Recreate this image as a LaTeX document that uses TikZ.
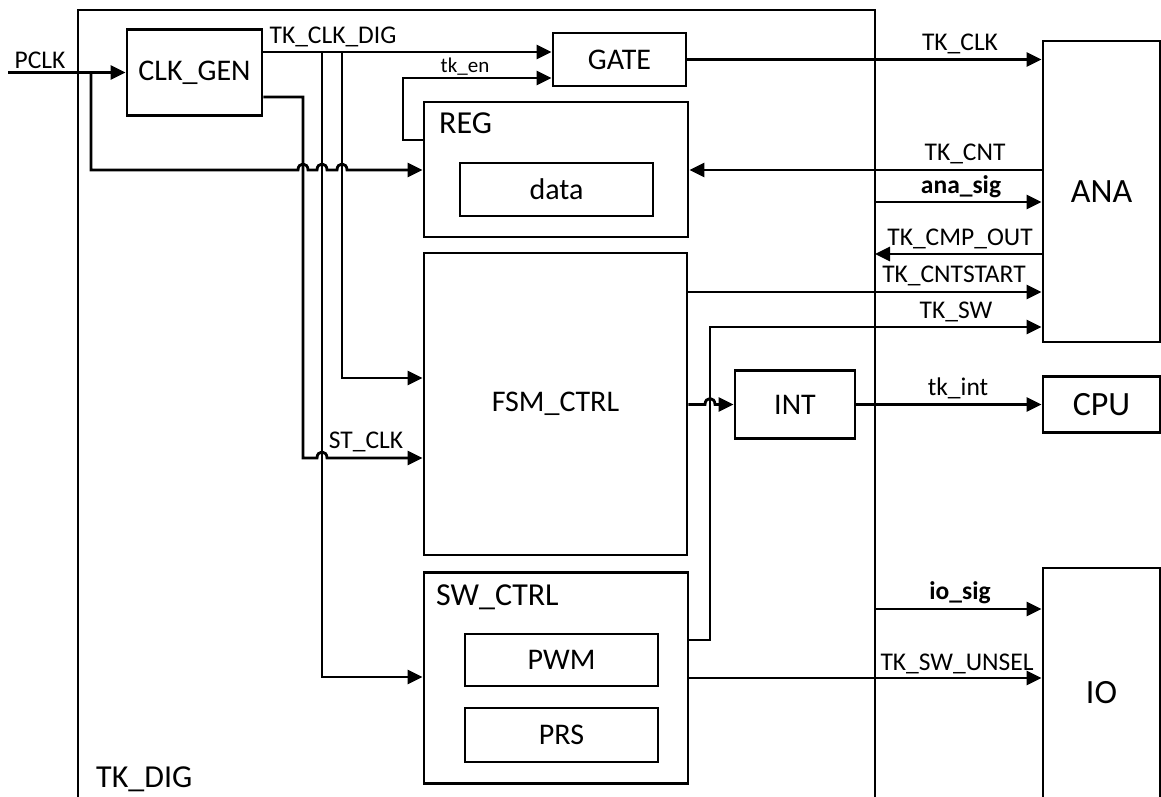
\documentclass[tikz,border=0pt]{standalone}
\usepackage{fontspec}
\setmainfont{Carlito}
\usetikzlibrary{arrows.meta}
\newcommand\fblk{\fontsize{30}{34}\selectfont}
\newcommand\fext{\fontsize{34}{38}\selectfont}
\newcommand\fbig{\fontsize{32}{36}\selectfont}
\newcommand\flbl{\fontsize{25.5}{29}\selectfont}
\newcommand\fsml{\fontsize{21}{25}\selectfont}
\newcommand\hj[2]{-- ({#1-5},#2) .. controls ({#1-5},{#2-8}) and ({#1+5},{#2-8}) .. ({#1+5},#2)}
\begin{document}
\begin{tikzpicture}[x=1pt,y=-1pt,
  box/.style={draw, line width=2.8pt, inner sep=0pt, font=\fblk},
  ext/.style={box, font=\fext},
  arr/.style={line width=2.8pt, -{Triangle[length=15pt,width=14pt]}},
  lbl/.style={anchor=base, inner sep=0pt, font=\flbl},
  blbl/.style={anchor=base west, inner sep=0pt, font=\fbig}]
\clip (0,0) rectangle (1161,796);
% outer container
\node[box, minimum width=797pt, minimum height=820pt] (tkdig) at (476.5,420) {};
\node[blbl] (tkdiglbl) at (96,787) {TK\_DIG};
% blocks
\node[box, minimum width=135pt, minimum height=86pt] (clkgen) at (194.5,72.5) {CLK\_GEN};
\node[box, minimum width=133pt, minimum height=53pt] (gate) at (619.5,59.5) {GATE};
\node[box, minimum width=264pt, minimum height=135pt] (reg) at (556,169.5) {};
\node[blbl] (reglbl) at (439,133) {REG};
\node[box, minimum width=193pt, minimum height=53pt] (data) at (556.5,189.5) {data};
\node[box, minimum width=263pt, minimum height=302pt] (fsm) at (555.5,404) {FSM\_CTRL};
\node[box, minimum width=264pt, minimum height=211pt] (sw) at (556,678) {};
\node[blbl] (swlbl) at (436,605) {SW\_CTRL};
\node[box, minimum width=193pt, minimum height=52pt] (pwm) at (561.5,660) {PWM};
\node[box, minimum width=193pt, minimum height=54pt] (prs) at (561.5,735) {PRS};
\node[box, minimum width=120pt, minimum height=68pt] (int) at (795,404.5) {INT};
\node[ext, minimum width=117pt, minimum height=301pt] (ana) at (1101.5,191.5) {ANA};
\node[ext, minimum width=117pt, minimum height=56pt] (cpu) at (1101.5,404.5) {CPU};
\node[ext, minimum width=117pt, minimum height=250pt] (io) at (1101.5,693) {IO};
% coordinates
\coordinate (pclk) at (8,72.5);
\coordinate (pbr) at (91,72.5);
\coordinate (asig) at (875,202);
\coordinate (cmp) at (875,254);
\coordinate (iosig) at (875,609);
% PCLK
\draw[arr] (pclk) -- (pclk -| clkgen.west);
\node[lbl] (pclklbl) at (40,68) {PCLK};
\draw[arr] (pbr) -- (91,170) \hj{303}{170} \hj{322}{170} \hj{342}{170} -- (reg.west |- 0,170);
% TK_CLK_DIG
\draw[arr] (clkgen.east |- 0,52) -- (gate.west |- 0,52);
\node[lbl] (tkclkdiglbl) at (333,43) {TK\_CLK\_DIG};
\draw[arr] (322,52) -- (322,677) -- (sw.west |- 0,677);
\draw[arr] (342,52) -- (342,378) -- (fsm.west |- 0,378);
% ST_CLK
\draw[arr] (clkgen.east |- 0,97) -- (303,97) -- (303,458) \hj{322}{458} -- (fsm.west |- 0,458);
\node[lbl] (stclklbl) at (366,448) {ST\_CLK};
% tk_en
\draw[arr] (reg.west |- 0,140) -- (403,140) -- (403,78) -- (gate.west |- 0,78);
\node[lbl, font=\fsml] (tkenlbl) at (465,72) {tk\_en};
% to ANA
\draw[arr] (gate.east) -- (gate.east -| ana.west);
\node[lbl] (tkclklbl) at (960,50) {TK\_CLK};
\draw[arr] (ana.west |- 0,170) -- (reg.east |- 0,170);
\node[lbl] (tkcntlbl) at (965,160) {TK\_CNT};
\draw[arr] (asig) -- (asig -| ana.west);
\node[lbl, font=\flbl\bfseries] (asiglbl) at (961,193) {ana\_sig};
\draw[arr] (ana.west |- cmp) -- (cmp);
\node[lbl] (cmplbl) at (960,245) {TK\_CMP\_OUT};
\draw[arr] (fsm.east |- 0,292) -- (ana.west |- 0,292);
\node[lbl] (cntstlbl) at (954,282) {TK\_CNTSTART};
\draw[arr] (sw.east |- 0,640) -- (710,640) -- (710,327) -- (ana.west |- 0,327);
\node[lbl] (tkswlbl) at (956,318) {TK\_SW};
% INT
\draw[arr] (fsm.east |- int.west) \hj{710}{404.5} -- (int.west);
\draw[arr] (int.east) -- (cpu.west);
\node[lbl] (tkintlbl) at (958,395) {tk\_int};
% IO
\draw[arr] (iosig) -- (iosig -| io.west);
\node[lbl, font=\flbl\bfseries] (iosiglbl) at (960,599) {io\_sig};
\draw[arr] (sw.east |- 0,678) -- (io.west |- 0,678);
\node[lbl] (unsellbl) at (957,670) {TK\_SW\_UNSEL};
\end{tikzpicture}
\end{document}
